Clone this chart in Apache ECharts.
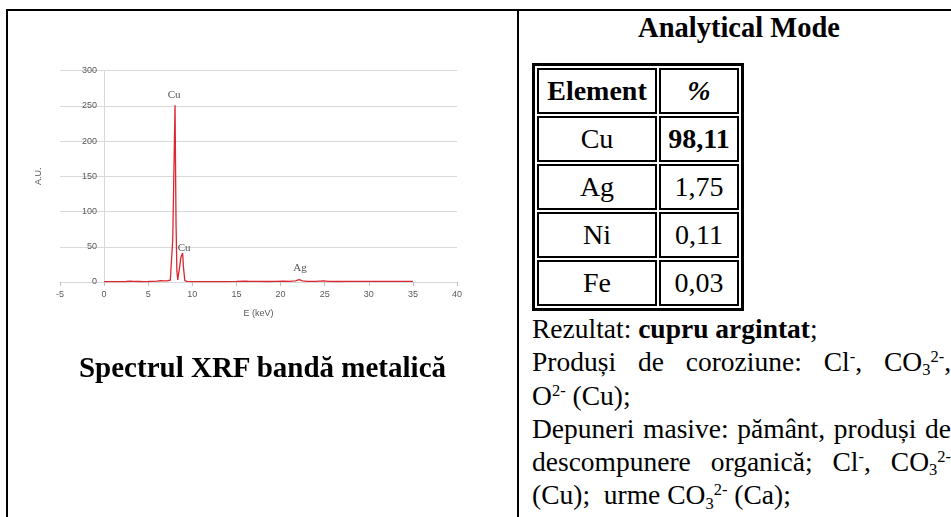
<!DOCTYPE html>
<html lang="ro">
<head>
    <meta charset="UTF-8">
    <title>Spectrul XRF bandă metalică</title>
    <script type="text/javascript" src="https://cdn.jsdelivr.net/npm/echarts@6.0.0/dist/echarts.min.js"></script>
    <style>
        html, body { margin: 0; padding: 0; background: #fff; }
        body { width: 951px; height: 517px; position: relative; overflow: hidden;
               font-family: "Liberation Serif", "Times New Roman", serif; color: #000; }
        b, i { font-family: "Liberation Serif", "Times New Roman", serif; }
        .line { position: absolute; background: #000; }
        #spectrum { position: absolute; left: 0; top: 0; width: 518px; height: 517px; }
        #caption { position: absolute; left: 8px; width: 509px; top: 350px; text-align: center;
                   font-weight: bold; font-size: 29px; line-height: 34px; white-space: nowrap; }
        #title { position: absolute; left: 519px; width: 440px; top: 11px; text-align: center;
                 font-weight: bold; font-size: 28.5px; line-height: 34px; white-space: nowrap; }
        #tbl { position: absolute; left: 532px; top: 63px; border: 3px solid #000;
               border-collapse: separate; border-spacing: 2px; }
        #tbl td { border: 2px solid #000; padding: 0; height: 42px; text-align: center;
                  font-size: 28px; line-height: 42px; white-space: nowrap; }
        #tbl td.c1 { width: 116px; }
        #tbl td.c2 { width: 76px; }
        #notes { position: absolute; left: 532px; top: 312px; width: 419px; font-size: 27.5px; }
        #notes div { line-height: 33.3px; height: 33.3px; white-space: nowrap; }
        #notes div.j { text-align: justify; text-align-last: justify; white-space: normal; }
        sup, sub { font-size: 0.6em; line-height: 0; vertical-align: baseline; position: relative; }
        sup { top: -0.55em; }
        sub { top: 0.25em; }
    </style>
    <script type="text/javascript">
        // spectru XRF (E in keV, intensitate in A.U.)
        var energy = [0, 0.5, 1, 1.5, 2, 2.5, 3, 3.3, 4, 4.5, 5, 5.5, 6, 6.4, 6.8, 7.2, 7.5, 7.65,
            7.78, 7.9, 8.04, 8.15, 8.25, 8.35, 8.5, 8.6, 8.7, 8.9, 9.0, 9.15, 9.4,
            10, 11, 12, 13, 14, 15, 16, 16.5, 17.5, 18.5, 19.5, 20.3, 21, 21.7, 22.1, 22.5,
            23, 24, 24.9, 25.4, 26.5, 27.5, 28.5, 29.5, 30.5, 31.5, 32.5, 33.5, 34.5, 35];
        var counts = [0.5, 0.5, 0.5, 0.6, 0.5, 0.7, 1.2, 0.8, 0.7, 0.6, 0.7, 0.9, 1.2, 1.8, 1.5, 1.8, 2.5, 5,
            60, 150, 251, 85, 15, 3, 4, 25, 35, 41, 20, 2, 1,
            0.6, 0.5, 0.5, 0.5, 0.6, 0.8, 1.2, 0.8, 0.8, 0.7, 0.8, 1.2, 0.9, 1.5, 3.5, 1.5,
            0.8, 0.9, 1.5, 1.0, 0.7, 0.8, 0.9, 1.0, 0.9, 1.0, 0.9, 1.0, 0.9, 0.8];

        // etichete peste picuri
        var peakNames = ['Cu', 'Cu', 'Ag'];
        var peakE = [7.94, 9.07, 22.2];
        var peakY = [266, 48, 20];

        var xMin = -5, xMax = 40, xStep = 5;
        var yMin = 0, yMax = 300, yStep = 50;

        var chart;

        function drawSpectrum() {
            chart = echarts.init(document.getElementById('spectrum'), null, {renderer: 'canvas'});

            var line = [];
            for (var i = 0; i < energy.length; i++) {
                line.push([energy[i], counts[i]]);
            }
            var marks = [];
            for (var j = 0; j < peakNames.length; j++) {
                marks.push({name: peakNames[j], value: [peakE[j], peakY[j]]});
            }

            var axisText = {fontFamily: 'Liberation Sans, Arial, sans-serif', fontSize: 9, color: '#595959'};

            var option = {
                animation: false,
                backgroundColor: 'transparent',
                grid: {left: 60, right: 61, top: 70.7, bottom: 235, containLabel: false},
                xAxis: {
                    type: 'value', min: xMin, max: xMax, interval: xStep,
                    name: 'E (keV)', nameLocation: 'middle', nameGap: 27,
                    nameTextStyle: axisText,
                    axisLine: {show: true, onZero: false, lineStyle: {color: '#d9d9d9', width: 1}},
                    axisTick: {show: true, length: 4, lineStyle: {color: '#bfbfbf'}},
                    axisLabel: {margin: 8, fontFamily: axisText.fontFamily, fontSize: 9, color: '#595959'},
                    splitLine: {show: false}
                },
                yAxis: {
                    type: 'value', min: yMin, max: yMax, interval: yStep,
                    name: 'A.U.', nameLocation: 'middle', nameGap: 17, nameRotate: 90,
                    nameTextStyle: axisText,
                    axisLine: {show: true, lineStyle: {color: '#d9d9d9', width: 1}},
                    axisTick: {show: false},
                    axisLabel: {margin: -37, fontFamily: axisText.fontFamily, fontSize: 9, color: '#595959'},
                    splitLine: {show: true, lineStyle: {color: '#d9d9d9', width: 1}}
                },
                series: [
                    {
                        name: 'spectru',
                        type: 'line',
                        data: line,
                        showSymbol: false,
                        symbol: 'none',
                        lineStyle: {color: '#dc2630', width: 1.3},
                        itemStyle: {color: '#dc2630'},
                        z: 3
                    },
                    {
                        name: 'picuri',
                        type: 'scatter',
                        data: marks,
                        symbolSize: 1,
                        itemStyle: {color: 'rgba(0,0,0,0)'},
                        label: {
                            show: true, position: 'inside', formatter: '{b}',
                            fontFamily: 'Liberation Serif, Times New Roman, serif',
                            fontSize: 11, color: '#262626'
                        },
                        z: 4
                    }
                ]
            };
            chart.setOption(option);
        }

        window.onload = function () {
            drawSpectrum();
        };
    </script>
</head>
<body>
<div id="spectrum"></div>

<div class="line" style="left:6px; top:9px; width:945px; height:2px;"></div>
<div class="line" style="left:6px; top:9px; width:2px; height:508px;"></div>
<div class="line" style="left:517px; top:9px; width:2px; height:508px;"></div>

<div id="caption">Spectrul XRF bandă metalică</div>

<div id="title">Analytical Mode</div>

<table id="tbl">
    <tr><td class="c1"><b>Element</b></td><td class="c2"><b><i>%</i></b></td></tr>
    <tr><td class="c1">Cu</td><td class="c2"><b>98,11</b></td></tr>
    <tr><td class="c1">Ag</td><td class="c2">1,75</td></tr>
    <tr><td class="c1">Ni</td><td class="c2">0,11</td></tr>
    <tr><td class="c1">Fe</td><td class="c2">0,03</td></tr>
</table>

<div id="notes">
    <div>Rezultat: <b>cupru argintat</b>;</div>
    <div class="j">Produși de coroziune: Cl<sup>-</sup>, CO<sub>3</sub><sup>2-</sup>,</div>
    <div>O<sup>2-</sup> (Cu);</div>
    <div class="j">Depuneri masive: pământ, produși de</div>
    <div class="j">descompunere organică; Cl<sup>-</sup>, CO<sub>3</sub><sup>2-</sup></div>
    <div>(Cu);&nbsp; urme CO<sub>3</sub><sup>2-</sup> (Ca);</div>
</div>
</body>
</html>
